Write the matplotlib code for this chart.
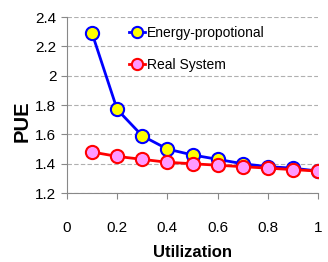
import matplotlib.pyplot as plt

plt.rcParams["font.family"] = ["Liberation Sans", "DejaVu Sans"]

utilization = [0.1, 0.2, 0.3, 0.4, 0.5, 0.6, 0.7, 0.8, 0.9, 1.0]
energy_prop = [2.29, 1.77, 1.59, 1.50, 1.46, 1.43, 1.40, 1.38, 1.37, 1.35]
real_system = [1.48, 1.45, 1.43, 1.41, 1.40, 1.39, 1.38, 1.37, 1.36, 1.35]

fig = plt.figure(figsize=(3.28, 2.62), dpi=100)
ax = fig.add_axes([0.204, 0.263, 0.766, 0.672])

ax.plot(utilization, energy_prop, color="#0000ff", lw=2, marker="o", ms=9.5,
        mfc="#ffff00", mec="#0000ff", mew=1.5, label="Energy-propotional", zorder=3)
ax.plot(utilization, real_system, color="#ff0000", lw=2, marker="o", ms=9.5,
        mfc="#ff99ff", mec="#ff0000", mew=1.5, label="Real System", zorder=4)

ax.set_xlim(0, 1)
ax.set_ylim(1.2, 2.4)
ax.set_xticks([0, 0.2, 0.4, 0.6, 0.8, 1])
ax.set_xticklabels(["0", "0.2", "0.4", "0.6", "0.8", "1"])
ax.set_yticks([1.2, 1.4, 1.6, 1.8, 2.0, 2.2, 2.4])
ax.set_yticklabels(["1.2", "1.4", "1.6", "1.8", "2", "2.2", "2.4"])
ax.yaxis.grid(True, ls=(0, (4, 2)), color="#b0b0b0", lw=0.8)
ax.set_axisbelow(True)

for s in ["top", "right"]:
    ax.spines[s].set_visible(False)
for s in ["left", "bottom"]:
    ax.spines[s].set_color("#888888")
ax.tick_params(colors="#888888", labelcolor="black", labelsize=11, length=4)
ax.tick_params(axis="x", pad=16)

ax.set_xlabel("Utilization", fontsize=12, fontweight="bold", labelpad=7)
ax.set_ylabel("PUE", fontsize=14.5, fontweight="bold")
ax.yaxis.set_label_coords(-0.14, 0.41)

ax.legend(loc="upper left", bbox_to_anchor=(0.247, 0.948), frameon=False,
          fontsize=10, handlelength=1.15, handletextpad=0.15, markerscale=0.85,
          labelspacing=1.3, borderpad=0, borderaxespad=0)

fig.savefig("out.png", dpi=100)
